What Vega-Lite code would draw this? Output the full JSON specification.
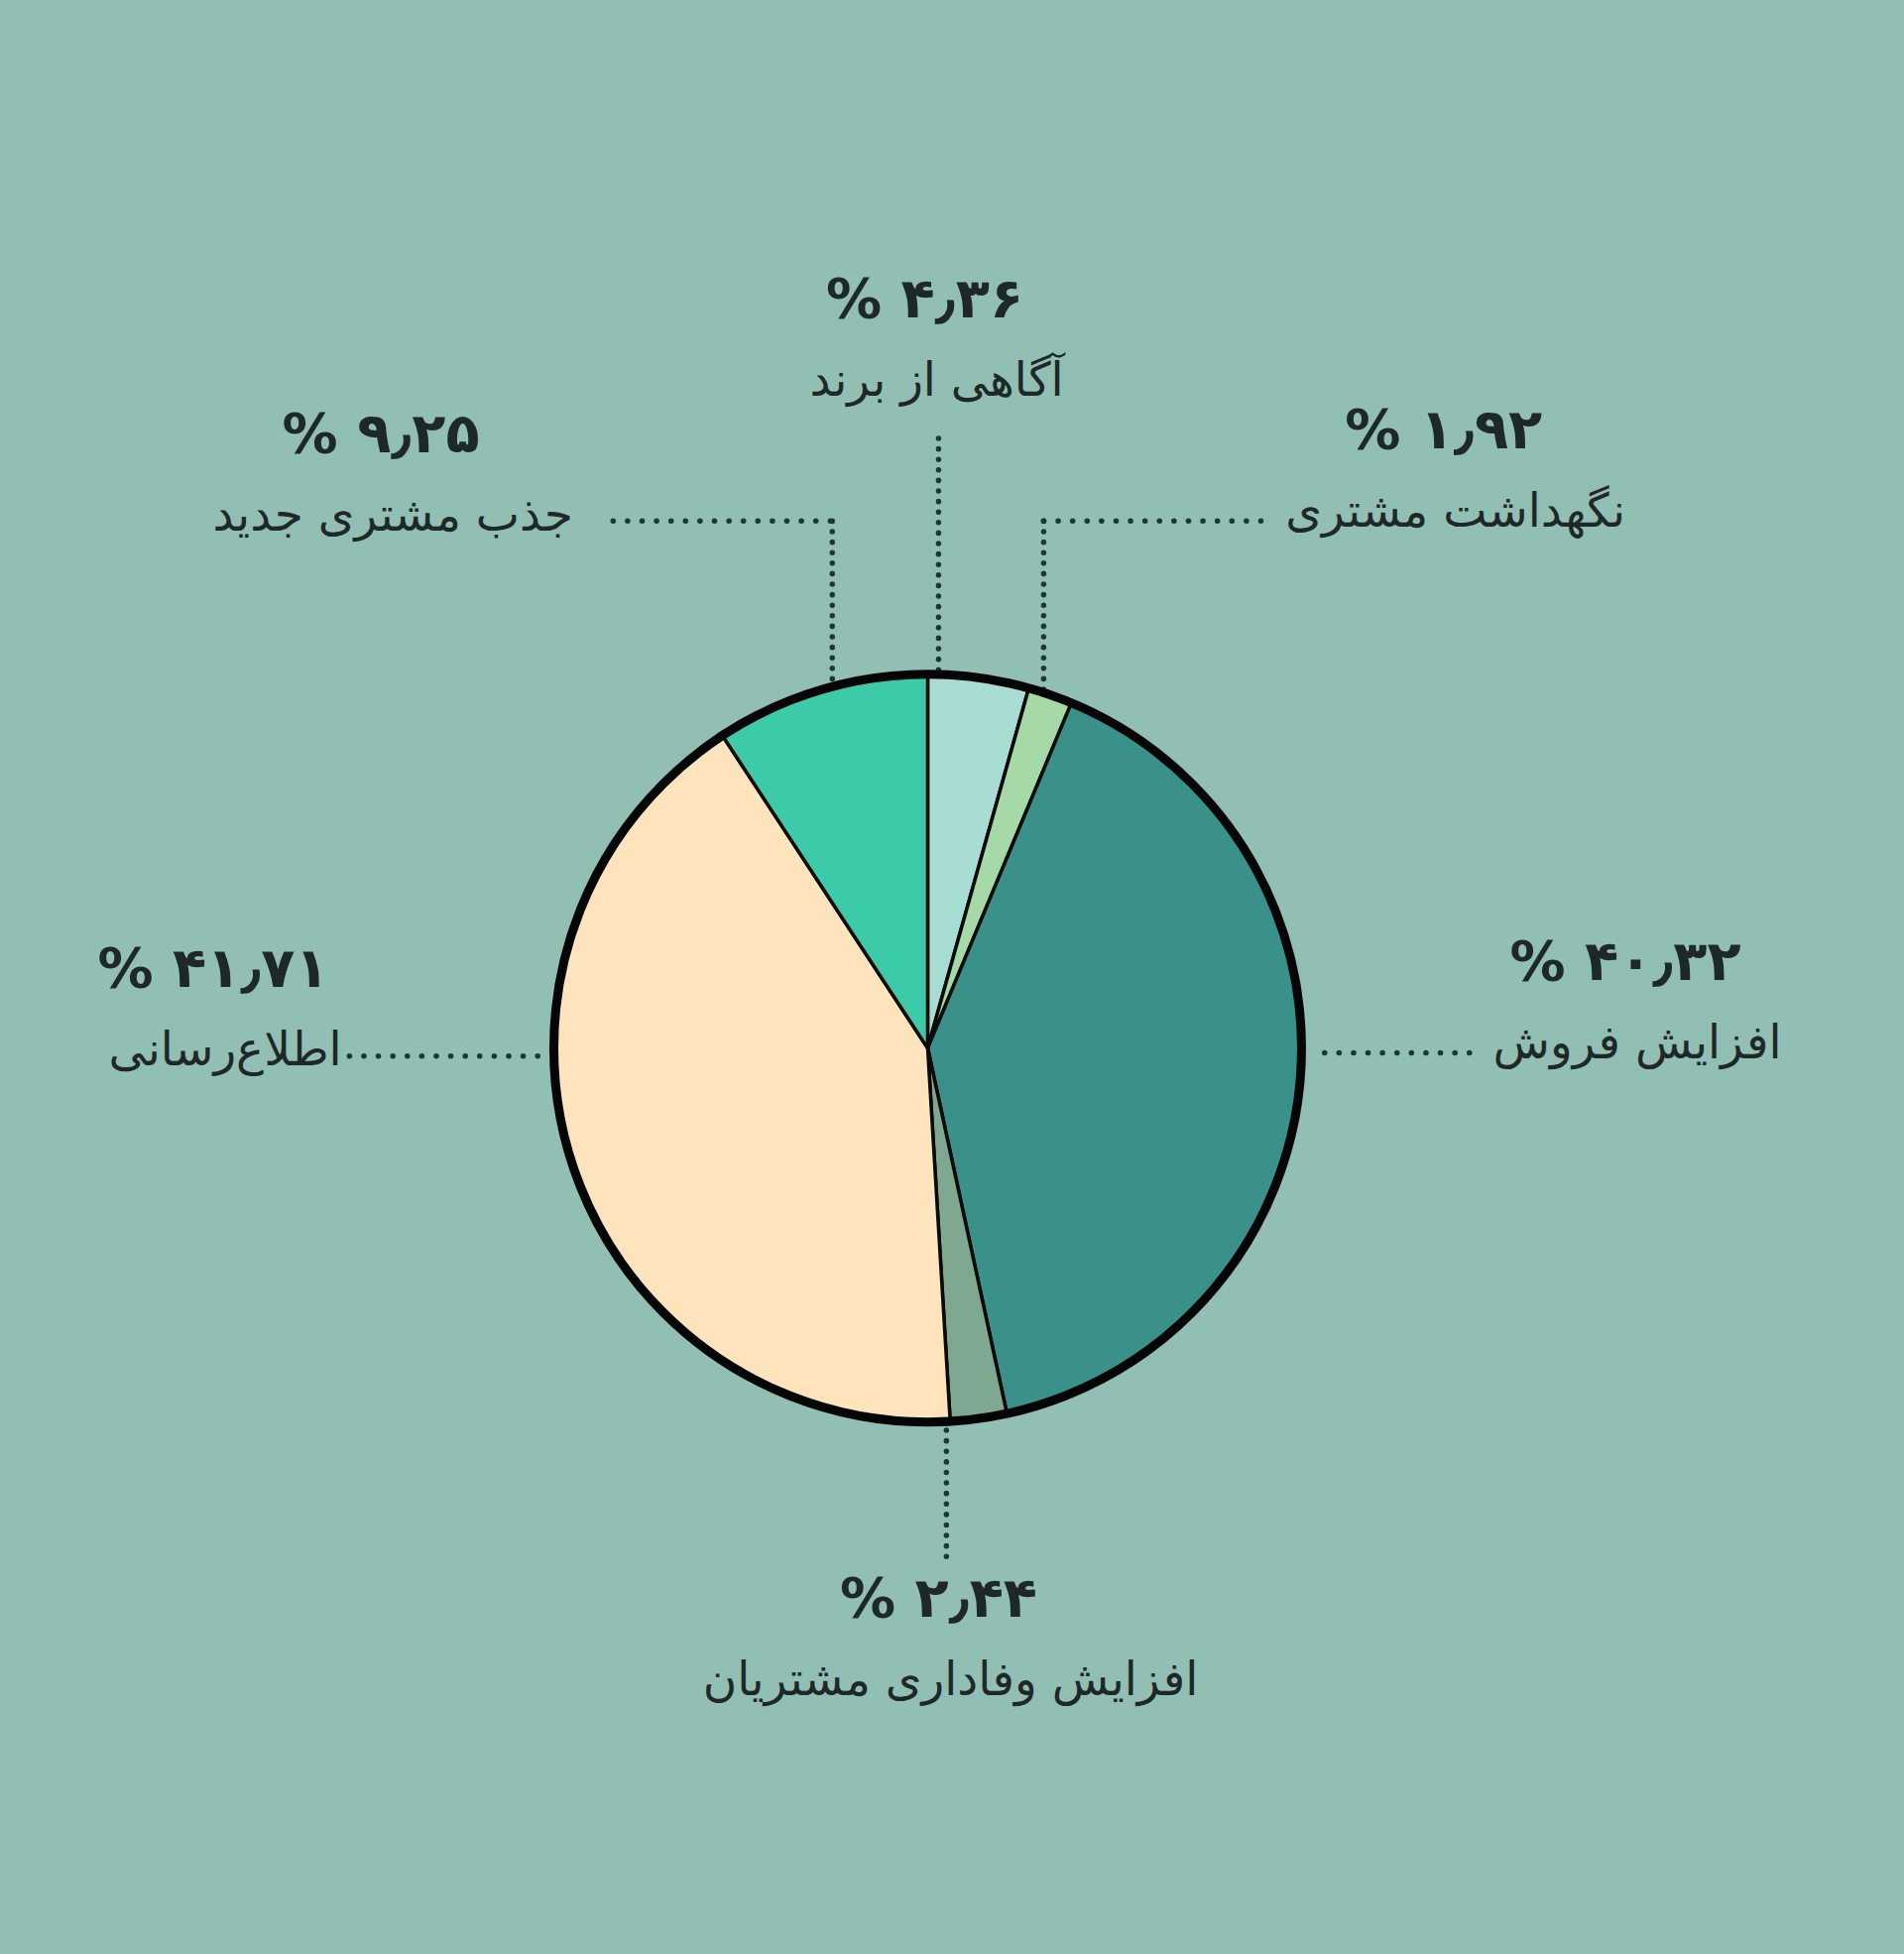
{
  "$schema": "https://vega.github.io/schema/vega-lite/v6.json",
  "width": 1920,
  "height": 1970,
  "padding": 0,
  "autosize": {"type": "none"},
  "background": "#92bfb4",
  "config": {"view": {"stroke": null}},
  "datasets": {
    "slices": [
      {"name": "آگاهی از برند", "share": 4.36, "seq": 1},
      {"name": "نگهداشت مشتری", "share": 1.92, "seq": 2},
      {"name": "افزایش فروش", "share": 40.32, "seq": 3},
      {"name": "افزایش وفاداری مشتریان", "share": 2.44, "seq": 4},
      {"name": "اطلاع‌رسانی", "share": 41.71, "seq": 5},
      {"name": "جذب مشتری جدید", "share": 9.25, "seq": 6}
    ],
    "labels": [
      {"name": "آگاهی از برند", "pct": "% ۴٫۳۶", "x": 0.024, "y": 1.78},
      {"name": "نگهداشت مشتری", "pct": "% ۱٫۹۲", "x": 1.411, "y": 1.43},
      {"name": "افزایش فروش", "pct": "% ۴۰٫۳۲", "x": 1.897, "y": 0.01},
      {"name": "افزایش وفاداری مشتریان", "pct": "% ۲٫۴۴", "x": 0.061, "y": -1.69},
      {"name": "اطلاع‌رسانی", "pct": "% ۴۱٫۷۱", "x": -1.878, "y": -0.01},
      {"name": "جذب مشتری جدید", "pct": "% ۹٫۲۵", "x": -1.43, "y": 1.42}
    ],
    "vLeaders": [
      {"x": 0.029, "y": 1.629, "y2": 0.99},
      {"x": -0.255, "y": 1.408, "y2": 0.967},
      {"x": 0.31, "y": 1.408, "y2": 0.951},
      {"x": 0.05, "y": -1.021, "y2": -1.363}
    ],
    "hLeaders": [
      {"y": 1.408, "x": -0.841, "x2": -0.255},
      {"y": 1.408, "x": 0.31, "x2": 0.894},
      {"y": -0.013, "x": 1.061, "x2": 1.451},
      {"y": -0.021, "x": -1.546, "x2": -1.037}
    ]
  },
  "layer": [
    {
      "data": {"name": "vLeaders"},
      "mark": {"type": "rule", "color": "#1c3833", "strokeWidth": 5.5, "strokeCap": "round", "strokeDash": [0.1, 10.5]},
      "encoding": {
        "x": {"field": "x", "type": "quantitative", "scale": {"domain": [-2.48, 2.61], "nice": false, "zero": false}, "axis": null},
        "y": {"field": "y", "type": "quantitative", "scale": {"domain": [-2.42, 2.8], "nice": false, "zero": false}, "axis": null},
        "y2": {"field": "y2"}
      }
    },
    {
      "data": {"name": "hLeaders"},
      "mark": {"type": "rule", "color": "#1c3833", "strokeWidth": 5.5, "strokeCap": "round", "strokeDash": [0.1, 14.5]},
      "encoding": {
        "x": {"field": "x", "type": "quantitative", "axis": null},
        "x2": {"field": "x2"},
        "y": {"field": "y", "type": "quantitative", "axis": null}
      }
    },
    {
      "data": {"name": "slices"},
      "mark": {"type": "arc", "radius": 377, "stroke": "#0a0a0a", "strokeWidth": 3.5},
      "encoding": {
        "x": {"datum": 0, "type": "quantitative", "axis": null},
        "y": {"datum": 0, "type": "quantitative", "axis": null},
        "theta": {"field": "share", "type": "quantitative", "stack": true},
        "order": {"field": "seq", "type": "quantitative"},
        "color": {
          "field": "name",
          "type": "nominal",
          "legend": null,
          "scale": {
            "domain": ["آگاهی از برند", "نگهداشت مشتری", "افزایش فروش", "افزایش وفاداری مشتریان", "اطلاع‌رسانی", "جذب مشتری جدید"],
            "range": ["#a8ddd3", "#a5d9a7", "#3a9189", "#7fa891", "#fde4bc", "#3ccba9"]
          }
        }
      }
    },
    {
      "data": {"values": [{}]},
      "mark": {"type": "arc", "radius": 377, "theta": 0, "theta2": 6.2832, "filled": false, "stroke": "#050505", "strokeWidth": 9},
      "encoding": {
        "x": {"datum": 0, "type": "quantitative", "axis": null},
        "y": {"datum": 0, "type": "quantitative", "axis": null}
      }
    },
    {
      "data": {"name": "labels"},
      "mark": {"type": "text", "font": "DejaVu Sans", "fontSize": 47, "color": "#1d2827", "align": "center", "baseline": "middle", "dir": "rtl"},
      "encoding": {
        "x": {"field": "x", "type": "quantitative", "axis": null},
        "y": {"field": "y", "type": "quantitative", "axis": null},
        "text": {"field": "name"}
      }
    },
    {
      "data": {"name": "labels"},
      "mark": {"type": "text", "font": "DejaVu Sans", "fontSize": 56, "fontWeight": "bold", "color": "#1d2827", "align": "center", "baseline": "middle", "dx": -12, "dy": -82},
      "encoding": {
        "x": {"field": "x", "type": "quantitative", "axis": null},
        "y": {"field": "y", "type": "quantitative", "axis": null},
        "text": {"field": "pct"}
      }
    }
  ]
}
